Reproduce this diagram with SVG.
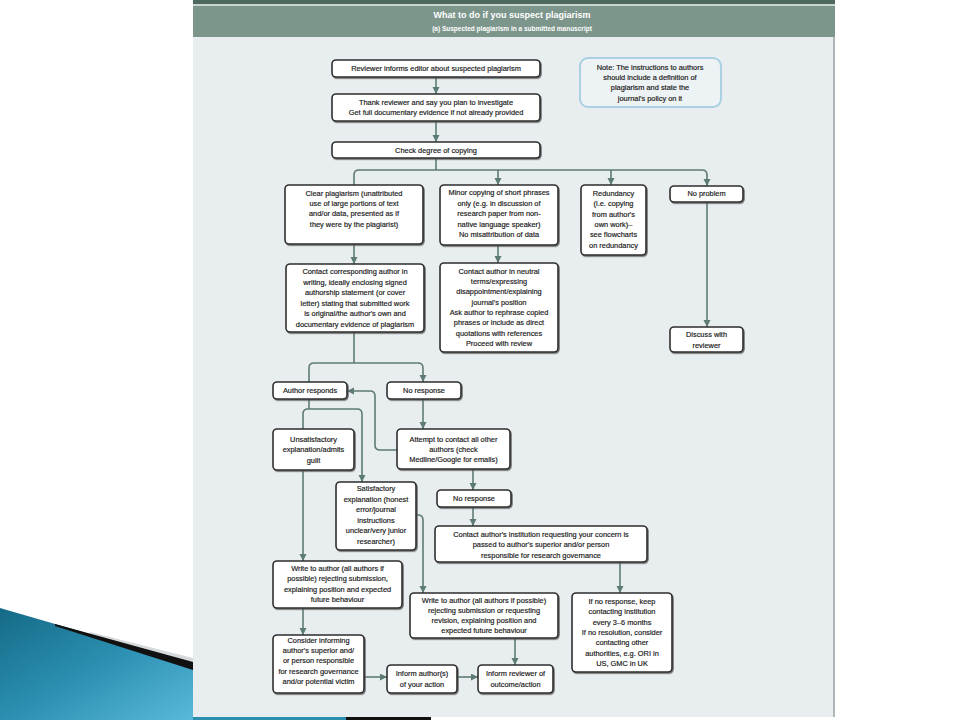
<svg xmlns="http://www.w3.org/2000/svg" width="960" height="720" viewBox="0 0 960 720">
<defs>
<style>
.box{fill:#ffffff;stroke:#2e2e2e;stroke-width:1.6;filter:url(#sh)}
.t{font-family:"Liberation Sans",Arial,sans-serif;font-size:7.4px;fill:#1a1a1a;stroke:#1a1a1a;stroke-width:0.18;text-anchor:middle}
.c{fill:none;stroke:#5d7b75;stroke-width:1.6}
.a{marker-end:url(#arr)}
.hd{font-family:"Liberation Sans",Arial,sans-serif;fill:#ffffff;text-anchor:middle}
</style>
<filter id="sh" x="-10%" y="-10%" width="130%" height="140%">
<feDropShadow dx="1" dy="1.2" stdDeviation="0.6" flood-color="#555555" flood-opacity="0.8"/>
</filter>
<marker id="arr" markerUnits="userSpaceOnUse" markerWidth="8" markerHeight="8" refX="7" refY="3.5" orient="auto">
<path d="M0,0 L7,3.5 L0,7 z" fill="#5d7b75"/>
</marker>
<linearGradient id="blue" x1="0" y1="0" x2="1" y2="1">
<stop offset="0" stop-color="#146a86"/>
<stop offset="0.5" stop-color="#2b8fb1"/>
<stop offset="1" stop-color="#5ab9da"/>
</linearGradient>
</defs>

<rect x="0" y="0" width="960" height="720" fill="#ffffff"/>

<!-- slide decoration -->
<polygon points="0,608 193,664 193,720 0,720" fill="url(#blue)"/>
<polygon points="90,632 193,658 193,664 90,636" fill="#d6dadc"/>
<polygon points="55,624 193,662 193,670 55,626" fill="#111111"/>

<!-- panel -->
<rect x="193" y="0" width="642" height="717" fill="#e8edef"/>
<rect x="193" y="0" width="642" height="4" fill="#4f685e"/>
<rect x="193" y="4" width="642" height="2" fill="#c9d5d0"/>
<rect x="193" y="6" width="642" height="31" fill="#7d968c"/>
<line x1="834" y1="37" x2="834" y2="717" stroke="#8a8f90" stroke-width="1.2"/>
<rect x="193" y="717" width="153" height="3" fill="#2a8fae"/>
<rect x="346" y="717" width="85" height="3" fill="#111111"/>
<text class="hd" x="512" y="18" font-size="9" font-weight="bold">What to do if you suspect plagiarism</text>
<text class="hd" x="512" y="31" font-size="6.5" font-weight="bold">(a)  Suspected plagiarism in a submitted manuscript</text>

<!-- connectors -->
<g id="connectors">
<path class="c a" d="M436,77 V94"/>
<path class="c a" d="M436,121 V142"/>
<path class="c" d="M436,158 V170"/>
<path class="c a" d="M354,185 V175 Q354,170 359,170 H702 Q707,170 707,175 V186"/>
<path class="c a" d="M498,170 V185"/>
<path class="c a" d="M611,170 V185"/>
<path class="c a" d="M707,202 V327"/>
<path class="c a" d="M354,244 V264"/>
<path class="c a" d="M498,245 V263"/>
<path class="c" d="M354,332 V363"/>
<path class="c a" d="M309,382 V368 Q309,363 314,363 H418 Q423,363 423,368 V382"/>
<path class="c a" d="M423,399 V429"/>
<path class="c a" d="M397,450 H380 Q375,450 375,445 V396 Q375,391 370,391 H347"/>
<path class="c" d="M309,399 V409"/>
<path class="c a" d="M303,429 V414 Q303,409 308,409 H357 Q362,409 362,414 V482"/>
<path class="c a" d="M473,469 V490"/>
<path class="c a" d="M473,507 V526"/>
<path class="c a" d="M620,562 V593"/>
<path class="c a" d="M416,515 H418 Q423,515 423,520 V593"/>
<path class="c a" d="M303,470 V561"/>
<path class="c a" d="M303,608 V635"/>
<path class="c a" d="M364,677 H387"/>
<path class="c a" d="M457,677 H478"/>
<path class="c a" d="M515,638 V665"/>
</g>

<g id="note">
<rect x="580" y="58" width="141" height="49" rx="8" fill="#edf2f4" stroke="#a9d0e3" stroke-width="2"/>
<text class="t" x="650" y="69.8">Note: The instructions to authors<tspan x="650" dy="10.3">should include a definition of</tspan><tspan x="650" dy="10.3">plagiarism and state the</tspan><tspan x="650" dy="10.3">journal's policy on it</tspan></text>
</g>

<g id="n-reviewer">
<rect class="box" x="332" y="60" width="208" height="17" rx="4"/>
<text class="t" x="436" y="71.2">Reviewer informs editor about suspected plagiarism</text>
</g>

<g id="n-thank">
<rect class="box" x="332" y="94" width="208" height="27" rx="4"/>
<text class="t" x="436" y="104.6">Thank reviewer and say you plan to investigate<tspan x="436" dy="10.6">Get full documentary evidence if not already provided</tspan></text>
</g>

<g id="n-check">
<rect class="box" x="332" y="142" width="208" height="16" rx="4"/>
<text class="t" x="436" y="152.7">Check degree of copying</text>
</g>

<g id="n-clear">
<rect class="box" x="285" y="185" width="138" height="59" rx="4"/>
<text class="t" x="354" y="196">Clear plagiarism (unattributed<tspan x="354" dy="10.2">use of large portions of text</tspan><tspan x="354" dy="10.2">and/or data, presented as if</tspan><tspan x="354" dy="10.2">they were by the plagiarist)</tspan></text>
</g>

<g id="n-minor">
<rect class="box" x="440" y="185" width="118" height="60" rx="4"/>
<text class="t" x="499" y="195">Minor copying of short phrases<tspan x="499" dy="10.6">only (e.g. in discussion of</tspan><tspan x="499" dy="10.6">research paper from non-</tspan><tspan x="499" dy="10.6">native language speaker)</tspan><tspan x="499" dy="10.6">No misattribution of data</tspan></text>
</g>

<g id="n-redundancy">
<rect class="box" x="581" y="185" width="65" height="70" rx="4"/>
<text class="t" x="613.5" y="196">Redundancy<tspan x="613.5" dy="10.3">(i.e. copying</tspan><tspan x="613.5" dy="10.3">from author's</tspan><tspan x="613.5" dy="10.3">own work)–</tspan><tspan x="613.5" dy="10.3">see flowcharts</tspan><tspan x="613.5" dy="10.3">on redundancy</tspan></text>
</g>

<g id="n-noproblem">
<rect class="box" x="670" y="186" width="73" height="16" rx="4"/>
<text class="t" x="706.5" y="196.3">No problem</text>
</g>

<g id="n-discuss">
<rect class="box" x="670" y="327" width="73" height="25" rx="4"/>
<text class="t" x="706.5" y="336.7">Discuss with<tspan x="706.5" dy="11">reviewer</tspan></text>
</g>

<g id="n-contact-corr">
<rect class="box" x="286" y="264" width="138" height="68" rx="4"/>
<text class="t" x="355" y="274.4">Contact corresponding author in<tspan x="355" dy="10.45">writing, ideally enclosing signed</tspan><tspan x="355" dy="10.45">authorship statement (or cover</tspan><tspan x="355" dy="10.45">letter) stating that submitted work</tspan><tspan x="355" dy="10.45">is original/the author's own and</tspan><tspan x="355" dy="10.45">documentary evidence of plagiarism</tspan></text>
</g>

<g id="n-contact-neutral">
<rect class="box" x="440" y="263" width="118" height="89" rx="4"/>
<text class="t" x="499" y="273.7">Contact author in neutral<tspan x="499" dy="10.33">terms/expressing</tspan><tspan x="499" dy="10.33">disappointment/explaining</tspan><tspan x="499" dy="10.33">journal's position</tspan><tspan x="499" dy="10.33">Ask author to rephrase copied</tspan><tspan x="499" dy="10.33">phrases or include as direct</tspan><tspan x="499" dy="10.33">quotations with references</tspan><tspan x="499" dy="10.33">Proceed with review</tspan></text>
</g>

<g id="n-author-responds">
<rect class="box" x="273" y="382" width="74" height="17" rx="4"/>
<text class="t" x="310" y="393.4">Author responds</text>
</g>

<g id="n-noresponse1">
<rect class="box" x="387" y="382" width="74" height="17" rx="4"/>
<text class="t" x="424" y="393.4">No response</text>
</g>

<g id="n-unsatisfactory">
<rect class="box" x="273" y="429" width="81" height="41" rx="4"/>
<text class="t" x="313.5" y="442">Unsatisfactory<tspan x="313.5" dy="10.3">explanation/admits</tspan><tspan x="313.5" dy="10.3">guilt</tspan></text>
</g>

<g id="n-attempt">
<rect class="box" x="397" y="429" width="113" height="40" rx="4"/>
<text class="t" x="453.5" y="442">Attempt to contact all other<tspan x="453.5" dy="10">authors (check</tspan><tspan x="453.5" dy="10">Medline/Google for emails)</tspan></text>
</g>

<g id="n-satisfactory">
<rect class="box" x="336" y="482" width="80" height="68" rx="4"/>
<text class="t" x="376" y="491">Satisfactory<tspan x="376" dy="10.6">explanation (honest</tspan><tspan x="376" dy="10.6">error/journal</tspan><tspan x="376" dy="10.6">instructions</tspan><tspan x="376" dy="10.6">unclear/very junior</tspan><tspan x="376" dy="10.6">researcher)</tspan></text>
</g>

<g id="n-noresponse2">
<rect class="box" x="437" y="490" width="74" height="17" rx="4"/>
<text class="t" x="474" y="501.4">No response</text>
</g>

<g id="n-institution">
<rect class="box" x="435" y="526" width="212" height="36" rx="4"/>
<text class="t" x="541" y="537">Contact author's institution requesting your concern is<tspan x="541" dy="10.4">passed to author's superior and/or person</tspan><tspan x="541" dy="10.4">responsible for research governance</tspan></text>
</g>

<g id="n-write-left">
<rect class="box" x="273" y="561" width="129" height="47" rx="4"/>
<text class="t" x="337.5" y="571">Write to author (all authors if<tspan x="337.5" dy="10.3">possible) rejecting submission,</tspan><tspan x="337.5" dy="10.3">explaining position and expected</tspan><tspan x="337.5" dy="10.3">future behaviour</tspan></text>
</g>

<g id="n-write-right">
<rect class="box" x="410" y="593" width="148" height="45" rx="4"/>
<text class="t" x="484" y="603.4">Write to author (all authors if possible)<tspan x="484" dy="10">rejecting submission or requesting</tspan><tspan x="484" dy="10">revision, explaining position and</tspan><tspan x="484" dy="10">expected future behaviour</tspan></text>
</g>

<g id="n-ifnoresponse">
<rect class="box" x="572" y="593" width="100" height="79" rx="4"/>
<text class="t" x="622" y="603.7">If no response, keep<tspan x="622" dy="10.4">contacting institution</tspan><tspan x="622" dy="10.4">every 3–6 months</tspan><tspan x="622" dy="10.4">If no resolution, consider</tspan><tspan x="622" dy="10.4">contacting other</tspan><tspan x="622" dy="10.4">authorities, e.g. ORI in</tspan><tspan x="622" dy="10.4">US, GMC in UK</tspan></text>
</g>

<g id="n-consider">
<rect class="box" x="273" y="635" width="91" height="58" rx="4"/>
<text class="t" x="318.5" y="642.7">Consider informing<tspan x="318.5" dy="10.3">author's superior and/</tspan><tspan x="318.5" dy="10.3">or person responsible</tspan><tspan x="318.5" dy="10.3">for research governance</tspan><tspan x="318.5" dy="10.3">and/or potential victim</tspan></text>
</g>

<g id="n-inform-author">
<rect class="box" x="387" y="665" width="70" height="28" rx="4"/>
<text class="t" x="422" y="676">Inform author(s)<tspan x="422" dy="10.5">of your action</tspan></text>
</g>

<g id="n-inform-reviewer">
<rect class="box" x="478" y="665" width="75" height="28" rx="4"/>
<text class="t" x="515.5" y="676">Inform reviewer of<tspan x="515.5" dy="10.5">outcome/action</tspan></text>
</g>
</svg>
